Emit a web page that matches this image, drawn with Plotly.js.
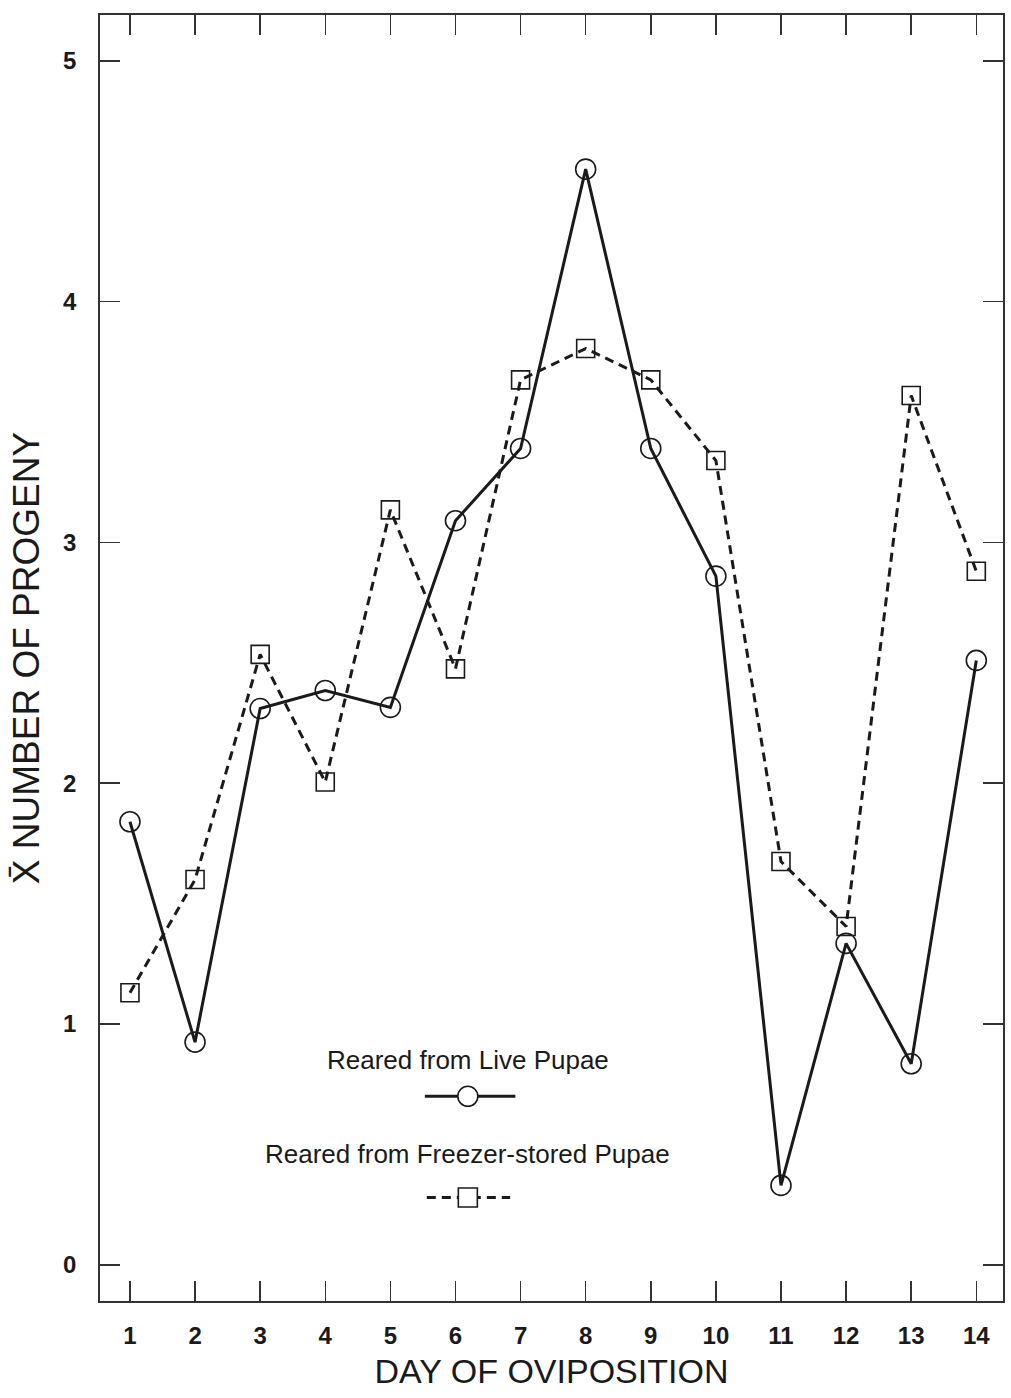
<!DOCTYPE html>
<html>
<head>
<meta charset="utf-8">
<script src="https://cdn.plot.ly/plotly-3.0.1.min.js"></script>
<style>
  html, body { margin: 0; padding: 0; background: #ffffff; }
  #chart { width: 1011px; height: 1398px; }
</style>
</head>
<body>
<div id="chart"></div>
<script>
// ---- data ----
const days = [1, 2, 3, 4, 5, 6, 7, 8, 9, 10, 11, 12, 13, 14];
const livePupae = [1.84, 0.925, 2.31, 2.385, 2.315, 3.09, 3.39, 4.55, 3.39, 2.86, 0.33, 1.335, 0.835, 2.51];
const freezerPupae = [1.13, 1.60, 2.535, 2.005, 3.135, 2.475, 3.675, 3.805, 3.675, 3.34, 1.675, 1.405, 3.61, 2.88];
const yTicks = [0, 1, 2, 3, 4, 5];
const xTickLabels = ['1','2','3','4','5','6','7','8','9','10','11','12','13','14'];
const seriesNames = ['Reared from Live Pupae', 'Reared from Freezer-stored Pupae'];
const xTitle = 'DAY OF OVIPOSITION';
const yTitle = 'X\u0304 NUMBER OF PROGENY';

// legend sample placement (inside the plot, in axis units)
const legendX = [5.53, 6.19, 6.92];
const legendY = [0.85, 0.70, 0.46, 0.28];

const ink = '#1a1a1a';
const fontFam = '"Liberation Sans", Arial, Helvetica, sans-serif';

const traces = [
  {
    x: days, y: livePupae, type: 'scatter', mode: 'lines+markers',
    name: seriesNames[0], showlegend: false, cliponaxis: false,
    line: { color: ink, width: 3 },
    marker: { symbol: 'circle-open', size: 20, color: ink, line: { width: 1.6, color: ink } }
  },
  {
    x: days, y: freezerPupae, type: 'scatter', mode: 'lines+markers',
    name: seriesNames[1], showlegend: false, cliponaxis: false,
    line: { color: ink, width: 3, dash: '9px,6px' },
    marker: { symbol: 'square-open', size: 18, color: ink, line: { width: 1.6, color: ink } }
  },
  // legend samples
  {
    x: [legendX[0], legendX[1], legendX[2]], y: [legendY[1], legendY[1], legendY[1]],
    type: 'scatter', mode: 'lines', showlegend: false, hoverinfo: 'skip',
    line: { color: ink, width: 3 }
  },
  {
    x: [legendX[1]], y: [legendY[1]], type: 'scatter', mode: 'markers',
    showlegend: false, hoverinfo: 'skip',
    marker: { symbol: 'circle', size: 20, color: '#ffffff', line: { width: 1.6, color: ink } }
  },
  {
    x: [legendX[0] + 0.03, legendX[2] - 0.08], y: [legendY[3], legendY[3]],
    type: 'scatter', mode: 'lines', showlegend: false, hoverinfo: 'skip',
    line: { color: ink, width: 3, dash: '9px,6px' }
  },
  {
    x: [legendX[1]], y: [legendY[3]], type: 'scatter', mode: 'markers',
    showlegend: false, hoverinfo: 'skip',
    marker: { symbol: 'square', size: 19, color: '#ffffff', line: { width: 1.6, color: ink } }
  }
];

const layout = {
  width: 1011, height: 1398,
  margin: { l: 100, r: 8, t: 15, b: 97, pad: 0 },
  paper_bgcolor: '#ffffff', plot_bgcolor: '#ffffff',
  showlegend: false,
  font: { family: fontFam, color: ink },
  xaxis: {
    range: [0.54, 14.41],
    tickmode: 'array', tickvals: days, ticktext: xTickLabels,
    ticks: 'inside', ticklen: 20, tickwidth: 1.5, tickcolor: '#333',
    mirror: 'ticks', showline: true, linecolor: '#333', linewidth: 1.8,
    showgrid: false, zeroline: false,
    ticklabelstandoff: 12,
    tickfont: { family: fontFam, size: 24, color: ink, weight: 'bold' },
    title: { text: xTitle, font: { family: fontFam, size: 34, color: ink }, standoff: 12 }
  },
  yaxis: {
    range: [-0.15, 5.19],
    tickmode: 'array', tickvals: yTicks,
    ticks: 'inside', ticklen: 20, tickwidth: 1.5, tickcolor: '#333',
    mirror: 'ticks', showline: true, linecolor: '#333', linewidth: 1.8,
    showgrid: false, zeroline: false,
    ticklabelstandoff: 17,
    tickfont: { family: fontFam, size: 24, color: ink, weight: 'bold' },
    title: { text: yTitle, font: { family: fontFam, size: 37, color: ink }, standoff: 12 }
  },
  annotations: [
    { x: legendX[1], y: legendY[0], xref: 'x', yref: 'y', text: seriesNames[0], showarrow: false,
      font: { family: fontFam, size: 26, color: ink }, xanchor: 'center', yanchor: 'middle' },
    { x: legendX[1], y: legendY[2], xref: 'x', yref: 'y', text: seriesNames[1], showarrow: false,
      font: { family: fontFam, size: 26, color: ink }, xanchor: 'center', yanchor: 'middle' }
  ]
};

Plotly.newPlot('chart', traces, layout, { displayModeBar: false, staticPlot: true });
</script>
</body>
</html>
